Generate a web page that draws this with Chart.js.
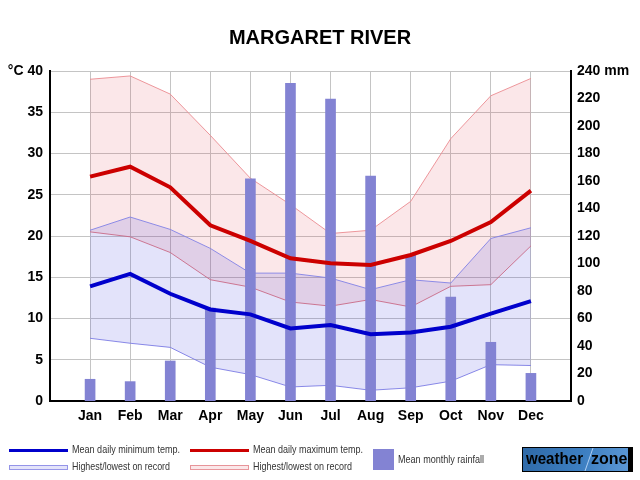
<!DOCTYPE html>
<html>
<head>
<meta charset="utf-8">
<script src="https://cdn.jsdelivr.net/npm/chart.js@4"></script>
<style>
html,body{margin:0;padding:0;background:#fff;}
#wrap{position:relative;width:640px;height:480px;}
</style>
</head>
<body>
<div id="wrap"><canvas id="c" width="640" height="480"></canvas></div>
<script>
const months = ['Jan','Feb','Mar','Apr','May','Jun','Jul','Aug','Sep','Oct','Nov','Dec'];
const maxMean = [27.2, 28.4, 25.9, 21.3, 19.4, 17.3, 16.7, 16.5, 17.7, 19.4, 21.7, 25.5];
const minMean = [13.9, 15.4, 13.0, 11.1, 10.5, 8.8, 9.2, 8.1, 8.3, 9.0, 10.6, 12.1];
const maxHighest = [39.0, 39.4, 37.2, 32.2, 27.0, 23.8, 20.3, 20.7, 24.2, 31.8, 37.0, 39.1];
const maxLowest = [20.5, 19.9, 18.0, 14.7, 13.8, 12.0, 11.5, 12.3, 11.4, 13.9, 14.1, 18.8];
const minHighest = [20.7, 22.3, 20.8, 18.5, 15.5, 15.5, 14.9, 13.5, 14.7, 14.3, 19.7, 21.0];
const minLowest = [7.6, 7.0, 6.5, 4.1, 3.2, 1.7, 1.9, 1.3, 1.6, 2.4, 4.4, 4.3];
const rainfall = [15.8, 14.1, 29.1, 67.6, 161.5, 231, 219.6, 163.6, 106, 75.6, 42.7, 20.1];

const labels = [''].concat(months, ['']);
const pad = arr => [null].concat(arr, [null]);

const FONT = '"Liberation Sans", Arial, sans-serif';

const decor = {
  id: 'decor',
  afterDraw(chart) {
    const ctx = chart.ctx;
    ctx.save();
    // title
    ctx.fillStyle = '#000';
    ctx.font = 'bold 20px ' + FONT;
    ctx.textAlign = 'center';
    ctx.textBaseline = 'middle';
    ctx.fillText('MARGARET RIVER', 320, 38);
    // legend
    ctx.textAlign = 'left';
    ctx.font = '11px ' + FONT;
    const txt = (t, x, y, w) => ctx.fillText(t, x, y, w);
    // row 1
    ctx.fillStyle = '#0000cc'; ctx.fillRect(9, 449, 59, 3);
    ctx.fillStyle = '#cc0000'; ctx.fillRect(190, 449, 59, 3);
    ctx.fillStyle = '#333';
    txt('Mean daily minimum temp.', 72, 450, 108);
    txt('Mean daily maximum temp.', 253, 450, 110);
    // row 2
    ctx.fillStyle = 'rgba(60,60,220,0.14)'; ctx.fillRect(9, 465, 59, 4);
    ctx.strokeStyle = 'rgba(140,140,230,0.9)'; ctx.lineWidth = 1; ctx.strokeRect(9.5, 465.5, 58, 4);
    ctx.fillStyle = 'rgba(220,60,70,0.12)'; ctx.fillRect(190, 465, 59, 4);
    ctx.strokeStyle = 'rgba(230,140,145,0.9)'; ctx.strokeRect(190.5, 465.5, 58, 4);
    ctx.fillStyle = '#333';
    txt('Highest/lowest on record', 72, 467, 98);
    txt('Highest/lowest on record', 253, 467, 99);
    // rainfall
    ctx.fillStyle = '#8383d3'; ctx.fillRect(373, 449, 21, 21);
    ctx.fillStyle = '#333';
    txt('Mean monthly rainfall', 398, 460, 86);
    // logo
    ctx.fillStyle = '#000'; ctx.fillRect(522, 447, 111, 25);
    const g = ctx.createLinearGradient(523, 448, 632, 471);
    g.addColorStop(0, '#2f6aa8'); g.addColorStop(0.55, '#3d7fc2'); g.addColorStop(1, '#5f9ad6');
    ctx.fillStyle = g; ctx.fillRect(523, 448, 105, 23);
    ctx.strokeStyle = 'rgba(200,225,255,0.8)'; ctx.lineWidth = 1;
    ctx.beginPath(); ctx.moveTo(593, 448); ctx.lineTo(585, 471); ctx.stroke();
    ctx.fillStyle = '#000';
    ctx.font = 'bold 16px ' + FONT;
    ctx.textBaseline = 'middle';
    txt('weather', 526, 460, 57);
    txt('zone', 591, 460, 37);
    ctx.restore();
  }
};

new Chart(document.getElementById('c'), {
  type: 'line',
  data: {
    labels: labels,
    datasets: [
      { label: 'maxHighest', data: pad(maxHighest), yAxisID: 'y', fill: '+1',
        backgroundColor: 'rgba(220,60,70,0.12)', borderColor: 'rgba(235,140,145,0.9)', borderWidth: 1,
        pointRadius: 0, tension: 0, order: 5 },
      { label: 'maxLowest', data: pad(maxLowest), yAxisID: 'y', fill: false,
        borderColor: 'rgba(225,120,125,0.9)', borderWidth: 1, pointRadius: 0, tension: 0, order: 5 },
      { label: 'minHighest', data: pad(minHighest), yAxisID: 'y', fill: '+1',
        backgroundColor: 'rgba(60,60,220,0.14)', borderColor: 'rgba(130,130,230,0.9)', borderWidth: 1,
        pointRadius: 0, tension: 0, order: 4 },
      { label: 'minLowest', data: pad(minLowest), yAxisID: 'y', fill: false,
        borderColor: 'rgba(130,130,230,0.9)', borderWidth: 1, pointRadius: 0, tension: 0, order: 4 },
      { type: 'bar', label: 'rain', data: pad(rainfall), yAxisID: 'y1',
        backgroundColor: '#8383d3', borderWidth: 0, barThickness: 10, order: 3 },
      { label: 'maxMean', data: pad(maxMean), yAxisID: 'y', fill: false,
        borderColor: '#cc0000', borderWidth: 4, pointRadius: 0, tension: 0, order: 1 },
      { label: 'minMean', data: pad(minMean), yAxisID: 'y', fill: false,
        borderColor: '#0000cc', borderWidth: 4, pointRadius: 0, tension: 0, order: 1 }
    ]
  },
  options: {
    responsive: false,
    animation: false,
    events: [],
    layout: { padding: { top: 71, left: 0, right: 0, bottom: 0 } },
    plugins: { legend: { display: false }, title: { display: false }, tooltip: { enabled: false } },
    scales: {
      x: {
        type: 'category',
        offset: false,
        grid: { color: '#c4c4c4', lineWidth: 1, drawTicks: false, offset: false },
        border: { color: '#000', width: 2 },
        ticks: { color: '#000', font: { family: FONT, size: 14, weight: 'bold' }, padding: 7,
                 autoSkip: false, maxRotation: 0 },
        afterFit(s) { s.height = 79; }
      },
      y: {
        position: 'left', min: 0, max: 40,
        grid: { color: '#c4c4c4', lineWidth: 1, drawTicks: false },
        border: { color: '#000', width: 2 },
        ticks: { stepSize: 5, color: '#000', padding: 7, font: { family: FONT, size: 14, weight: 'bold' },
                 callback: v => v === 40 ? '°C 40' : String(v) },
        afterFit(s) { s.width = 50; }
      },
      y1: {
        position: 'right', min: 0, max: 240,
        grid: { display: false, drawTicks: false },
        border: { color: '#000', width: 2 },
        ticks: { stepSize: 20, color: '#000', padding: 6, font: { family: FONT, size: 14, weight: 'bold' },
                 callback: v => v === 240 ? '240 mm' : String(v) },
        afterFit(s) { s.width = 69; }
      }
    }
  },
  plugins: [decor]
});
</script>
</body>
</html>
